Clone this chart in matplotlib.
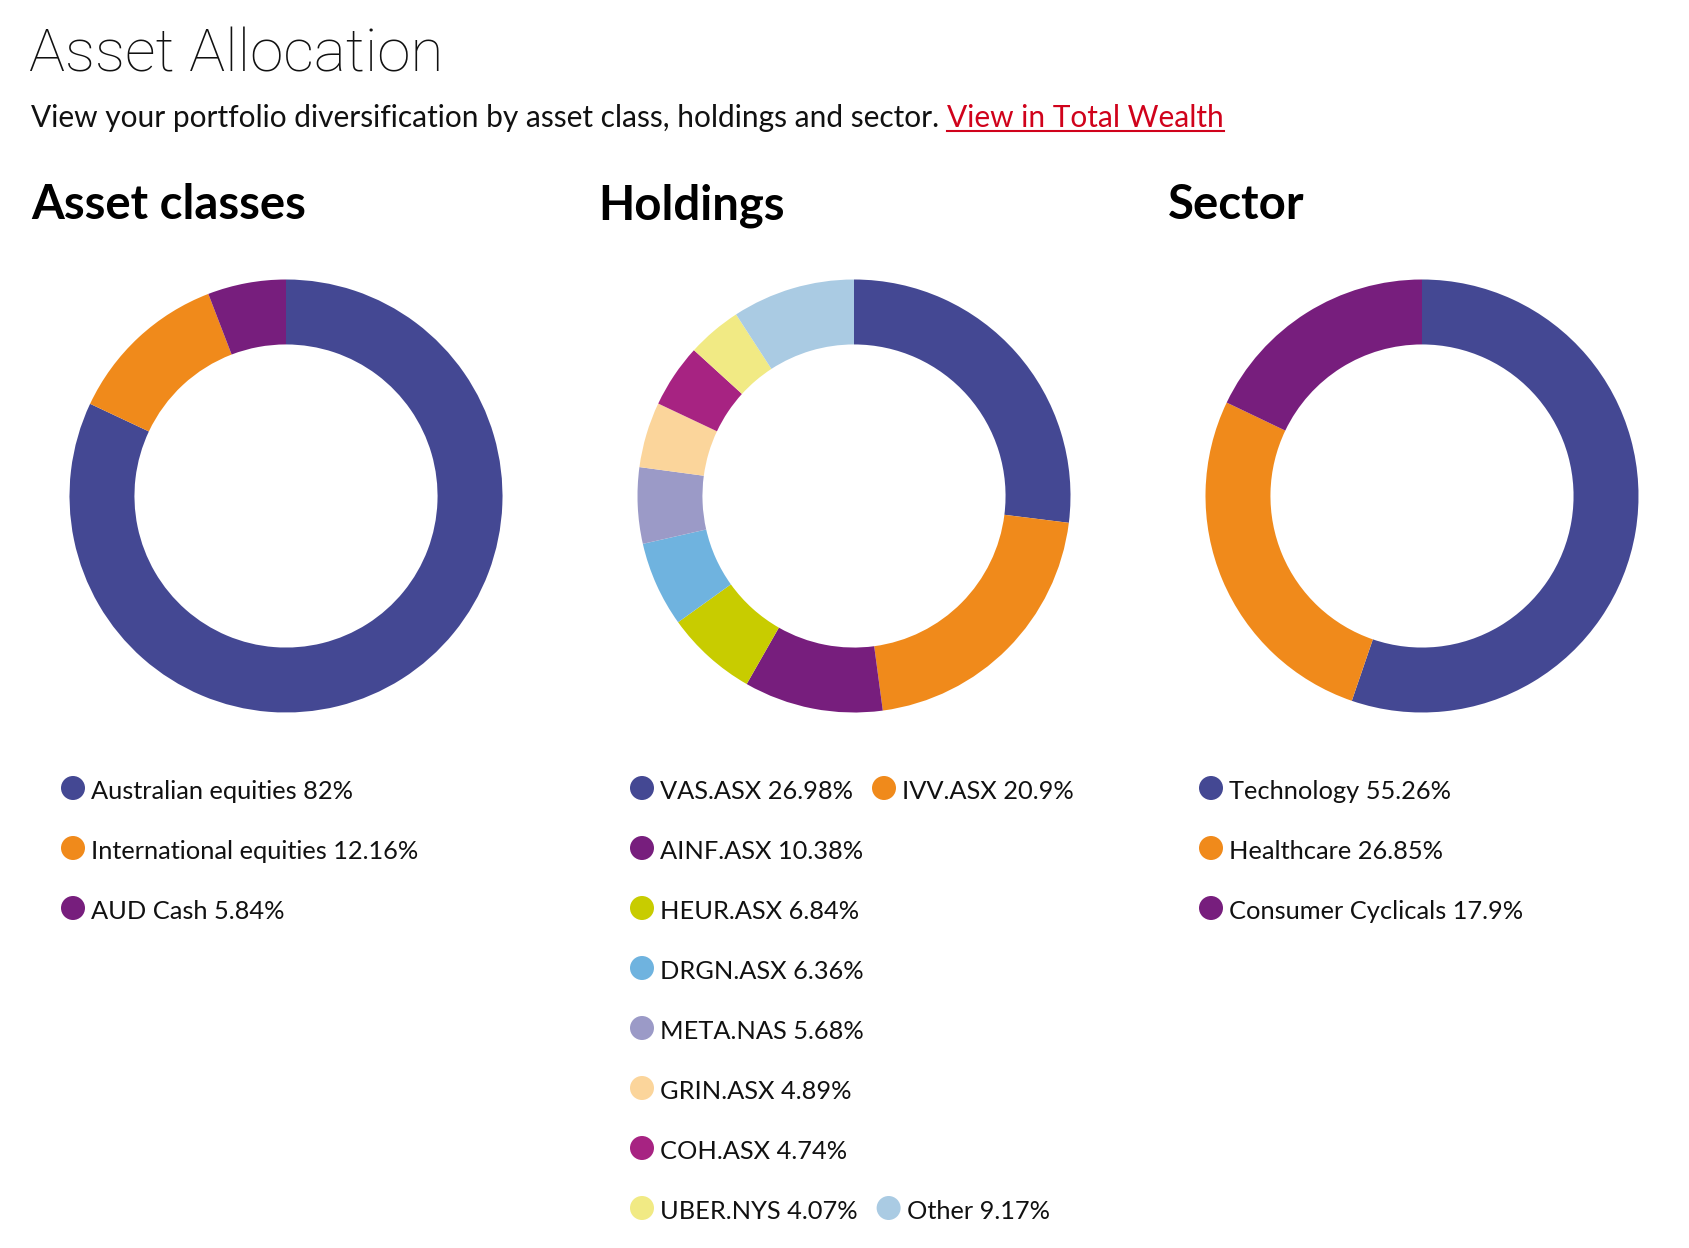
import matplotlib
matplotlib.use("Agg")
import matplotlib.pyplot as plt
from matplotlib.patches import Circle

# chart data
asset_labels = ["Australian equities", "International equities", "AUD Cash"]
asset_values = [82, 12.16, 5.84]

holding_labels = ["VAS.ASX", "IVV.ASX", "AINF.ASX", "HEUR.ASX", "DRGN.ASX",
                  "META.NAS", "GRIN.ASX", "COH.ASX", "UBER.NYS", "Other"]
holding_values = [26.98, 20.9, 10.38, 6.84, 6.36, 5.68, 4.89, 4.74, 4.07, 9.17]

sector_labels = ["Technology", "Healthcare", "Consumer Cyclicals"]
sector_values = [55.26, 26.85, 17.9]

# colours
BLUE, ORANGE, PURPLE = "#444893", "#F08A1B", "#771E7D"
three_colors = [BLUE, ORANGE, PURPLE]
holding_colors = [BLUE, ORANGE, PURPLE, "#C8CC00", "#6FB3DF", "#9B9AC7",
                  "#FBD59B", "#A72382", "#F1EA84", "#AACBE3"]

# legend rows as they wrap on the page
three_rows = [[0], [1], [2]]
holding_rows = [[0, 1], [2], [3], [4], [5], [6], [7], [8, 9]]

W, H = 1690, 1248
FONT = "Lato"
CY, R = 496, 216.5

fig = plt.figure(figsize=(W / 100, H / 100), dpi=100)
page = fig.add_axes([0, 0, 1, 1])
page.set_xlim(0, W)
page.set_ylim(H, 0)
page.axis("off")
renderer = fig.canvas.get_renderer()

# header
page.text(29, 72, "Asset Allocation", fontsize=43.5, fontweight="light", family="Roboto", color="#111111")
sub = page.text(31, 127, "View your portfolio diversification by asset class, holdings and sector.",
                fontsize=21.5, family=FONT, color="#111111")
bb = sub.get_window_extent(renderer)
link = page.text(bb.x1 + 8, 127, "View in Total Wealth", fontsize=21.5, family=FONT, color="#D0021B")
lb = link.get_window_extent(renderer)
page.plot([lb.x0, lb.x1], [131, 131], color="#D0021B", lw=1.5)


def donut(cx, values, colors):
    ax = fig.add_axes([(cx - R) / W, (H - CY - R) / H, 2 * R / W, 2 * R / H])
    ax.pie(values, colors=colors, startangle=90, counterclock=False,
           wedgeprops=dict(width=0.3, linewidth=0))
    ax.set_xlim(-1, 1)
    ax.set_ylim(-1, 1)


def legend(x0, labels, values, colors, rows):
    for i, row in enumerate(rows):
        y = 788 + 60 * i
        x = x0
        for k in row:
            page.add_patch(Circle((x + 12, y), 12, color=colors[k], lw=0))
            t = page.text(x + 30, y + 11, f"{labels[k]} {values[k]:g}%",
                          fontsize=18.3, family=FONT, color="#111111")
            x = t.get_window_extent(renderer).x1 + 19


sections = [
    ("Asset classes", 31, 61, 286, asset_labels, asset_values, three_colors, three_rows),
    ("Holdings", 598, 630, 854, holding_labels, holding_values, holding_colors, holding_rows),
    ("Sector", 1168, 1199, 1422, sector_labels, sector_values, three_colors, three_rows),
]
for title, tx, lx, cx, labels, values, colors, rows in sections:
    page.text(tx, 219, title, fontsize=34, fontweight="bold", family=FONT, color="black")
    donut(cx, values, colors)
    legend(lx, labels, values, colors, rows)

fig.savefig("out.png", dpi=100, facecolor="white")
